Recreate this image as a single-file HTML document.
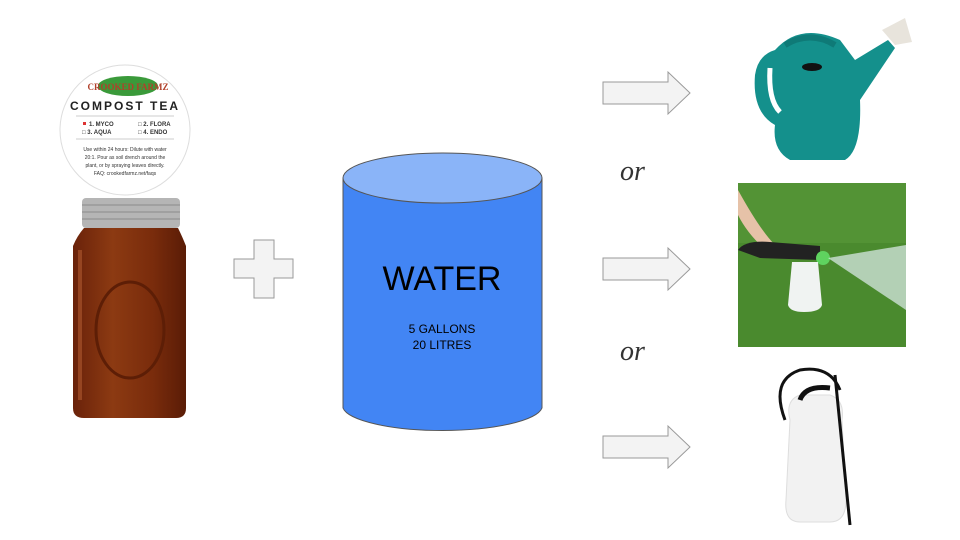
<!DOCTYPE html>
<html><head><meta charset="utf-8"><style>
html,body{margin:0;padding:0;background:#fff;width:960px;height:540px;overflow:hidden}
</style></head><body>
<svg width="960" height="540" viewBox="0 0 960 540" xmlns="http://www.w3.org/2000/svg" font-family="Liberation Sans, sans-serif">
<defs>
<linearGradient id="jar" x1="0" x2="1" y1="0" y2="0">
<stop offset="0" stop-color="#6a220a"/><stop offset="0.35" stop-color="#8c3a12"/><stop offset="0.7" stop-color="#7a2c0c"/><stop offset="1" stop-color="#5a1c06"/>
</linearGradient>
</defs>
<!-- label -->
<circle cx="125" cy="130" r="65" fill="#fff" stroke="#ddd" stroke-width="1"/>
<ellipse cx="128" cy="86" rx="30" ry="10" fill="#3a9a3a"/>
<text x="128" y="90" font-size="9" fill="#b0402a" text-anchor="middle" font-family="Liberation Serif, serif" font-weight="bold">CROOKED FARMZ</text>
<text x="125" y="110" font-size="12" font-weight="bold" text-anchor="middle" letter-spacing="2" fill="#222">COMPOST TEA</text>
<line x1="76" y1="116" x2="174" y2="116" stroke="#ccc"/>
<rect x="83" y="122" width="3" height="3" fill="#d33"/>
<text x="89" y="126" font-size="6" font-weight="bold" fill="#333">1. MYCO</text>
<text x="138" y="126" font-size="6" font-weight="bold" fill="#333">□ 2. FLORA</text>
<text x="82" y="134" font-size="6" font-weight="bold" fill="#333">□ 3. AQUA</text>
<text x="138" y="134" font-size="6" font-weight="bold" fill="#333">□ 4. ENDO</text>
<line x1="76" y1="139" x2="174" y2="139" stroke="#ccc"/>
<g font-size="5" fill="#333" text-anchor="middle">
<text x="125" y="151">Use within 24 hours: Dilute with water</text>
<text x="125" y="159">20:1. Pour as soil drench around the</text>
<text x="125" y="167">plant, or by spraying leaves directly.</text>
<text x="125" y="175">FAQ: crookedfarmz.net/faqs</text>
</g>
<!-- jar -->
<rect x="82" y="198" width="98" height="30" rx="4" fill="#b5b5b5"/>
<g stroke="#8a8a8a" stroke-width="1"><line x1="82" y1="205" x2="180" y2="205"/><line x1="82" y1="212" x2="180" y2="212"/><line x1="82" y1="219" x2="180" y2="219"/></g>
<path d="M84 228 H178 Q182 236 186 246 V408 Q186 418 176 418 H84 Q73 418 73 408 V246 Q77 236 84 228Z" fill="url(#jar)"/>
<path d="M80 250 V400" stroke="#b05a30" stroke-width="4" opacity="0.6"/>
<ellipse cx="130" cy="330" rx="34" ry="48" fill="none" stroke="#5d1e06" stroke-width="3"/>
<!-- plus -->
<path d="M254 240 H274 V259 H293 V278 H274 V298 H254 V278 H234 V259 H254Z" fill="#f3f3f3" stroke="#999"/>
<!-- cylinder -->
<path d="M343 178 V408 A100 25 0 0 0 542 408 V178Z" fill="#4285f4" stroke="#555"/>
<ellipse cx="442.5" cy="178" rx="99.5" ry="25" fill="#8ab4f8" stroke="#555"/>
<text x="442" y="290" font-size="34" text-anchor="middle" fill="#000">WATER</text>
<text x="442" y="333" font-size="12" text-anchor="middle" fill="#000">5 GALLONS</text>
<text x="442" y="349" font-size="12" text-anchor="middle" fill="#000">20 LITRES</text>
<!-- arrows -->
<g fill="#f3f3f3" stroke="#999">
<path d="M603 82 H668 V72 L690 93 L668 114 V104 H603Z"/>
<path d="M603 258 H668 V248 L690 269 L668 290 V280 H603Z"/>
<path d="M603 436 H668 V426 L690 447 L668 468 V458 H603Z"/>
</g>
<text x="620" y="180" font-size="28" font-style="italic" font-family="Liberation Serif, serif" fill="#333">or</text>
<text x="620" y="360" font-size="28" font-style="italic" font-family="Liberation Serif, serif" fill="#333">or</text>
<!-- watering can -->
<path d="M775 50 Q800 22 840 40 L855 60 L888 40 L895 48 L860 100 Q862 150 845 160 H790 Q772 150 775 125 Q752 112 755 75 Q758 55 775 50Z" fill="#14908c"/>
<path d="M770 68 Q768 100 780 112" fill="none" stroke="#fff" stroke-width="5"/>
<path d="M785 45 Q810 30 835 45" fill="none" stroke="#0f7a77" stroke-width="6"/>
<ellipse cx="812" cy="67" rx="10" ry="4" fill="#111"/>
<path d="M882 30 L905 18 L912 42 L895 45Z" fill="#e8e4dc"/>
<!-- grass photo -->
<rect x="738" y="183" width="168" height="164" fill="#4a8a2e"/>
<rect x="738" y="183" width="168" height="60" fill="#5a9a3a" opacity="0.6"/>
<path d="M738 190 Q760 230 775 245 L768 252 Q748 235 738 215Z" fill="#e6c2a8"/>
<path d="M738 250 Q745 240 770 242 L820 246 L820 260 L760 258Z" fill="#222"/>
<circle cx="823" cy="258" r="7" fill="#5fd35f"/>
<path d="M792 262 H818 L822 305 Q820 312 804 312 Q790 312 788 305Z" fill="#f0f3f2"/>
<path d="M828 258 L906 245 L906 310 Z" fill="#dfeef0" opacity="0.7"/>
<!-- sprayer -->
<path d="M790 420 Q785 400 800 395 H830 Q845 400 842 420 L846 500 Q846 522 830 522 H800 Q784 522 786 500Z" fill="#f2f2f2" stroke="#ddd"/>
<path d="M785 420 Q770 380 800 370 Q830 365 840 390" fill="none" stroke="#111" stroke-width="3"/>
<path d="M835 375 L850 525" stroke="#111" stroke-width="3"/>
<path d="M800 400 Q805 385 830 388" fill="none" stroke="#111" stroke-width="5"/>
</svg>
</body></html>
